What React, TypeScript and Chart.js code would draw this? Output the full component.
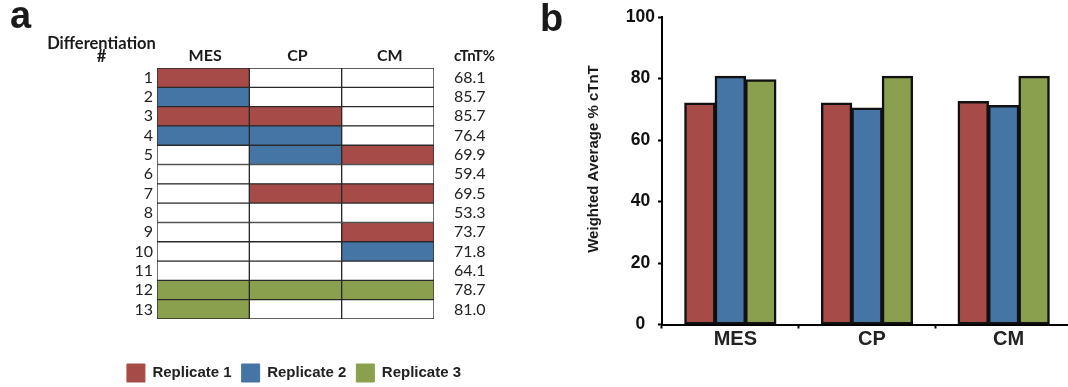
import React, { useEffect, useRef } from 'react';
import { Chart, registerables } from 'chart.js';

Chart.register(...registerables);

// ---------- Data ----------
const rowLabels = ['1', '2', '3', '4', '5', '6', '7', '8', '9', '10', '11', '12', '13'];
const cTnTPercent = [68.1, 85.7, 85.7, 76.4, 69.9, 59.4, 69.5, 53.3, 73.7, 71.8, 64.1, 78.7, 81.0];
const stages = ['MES', 'CP', 'CM'];
// replicate used at each stage for each differentiation (0 = none)
const mesReplicate = [1, 2, 1, 2, 0, 0, 0, 0, 0, 0, 0, 3, 3];
const cpReplicate = [0, 0, 1, 2, 2, 0, 1, 0, 0, 0, 0, 3, 0];
const cmReplicate = [0, 0, 0, 0, 1, 0, 1, 0, 1, 2, 0, 3, 0];
const replicateNames = ['Replicate 1', 'Replicate 2', 'Replicate 3'];
const replicate1 = [72.0, 72.0, 72.5];
const replicate2 = [80.7, 70.4, 71.2];
const replicate3 = [79.6, 80.7, 80.7];
const yTicks = [0, 20, 40, 60, 80, 100];

// ---------- Styles ----------
const COLORS = ['#A64B47', '#4575A5', '#8BA04E'];
const ARIAL = '"Liberation Sans", Arial, Helvetica, sans-serif';
const TABLE_FONT = 'Lato, "Open Sans", sans-serif';

const panelAText = {
  id: 'panelAText',
  afterDraw(chart: any) {
    const ctx = chart.ctx;
    ctx.save();
    ctx.fillStyle = '#1a1a1a';
    ctx.textBaseline = 'alphabetic';
    ctx.textAlign = 'left';
    ctx.font = `bold 38px ${ARIAL}`;
    ctx.fillText('a', 10, 28);
    ctx.font = `bold 16.5px ${TABLE_FONT}`;
    ctx.textAlign = 'center';
    ctx.fillText('Differentiation', 101.5, 48.5);
    ctx.fillText('#', 101.5, 61.5);
    ctx.textAlign = 'left';
    ctx.font = `bold 15px ${TABLE_FONT}`;
    ctx.fillText('cTnT%', chart.chartArea.right + 20, 61);
    ctx.restore();
  },
};

const panelBText = {
  id: 'panelBText',
  afterDraw(chart: any) {
    const ctx = chart.ctx;
    ctx.save();
    ctx.fillStyle = '#1a1a1a';
    ctx.textBaseline = 'alphabetic';
    ctx.textAlign = 'left';
    ctx.font = `bold 38px ${ARIAL}`;
    ctx.fillText('b', 20, 31);
    ctx.translate(73.5, 159);
    ctx.rotate(-Math.PI / 2);
    ctx.textAlign = 'center';
    ctx.textBaseline = 'middle';
    ctx.font = `bold 15px ${ARIAL}`;
    ctx.fillText('Weighted Average % cTnT', 0, 0);
    ctx.restore();
  },
};

export default function App() {
  const refA = useRef<HTMLCanvasElement>(null);
  const refB = useRef<HTMLCanvasElement>(null);

  useEffect(() => {
    const assignments = [mesReplicate, cpReplicate, cmReplicate];
    const chartA = new Chart(refA.current as HTMLCanvasElement, {
      type: 'bar',
      data: {
        labels: rowLabels,
        datasets: stages.map((s, si) => ({
          label: s,
          data: rowLabels.map(() => [si, si + 1]),
          backgroundColor: assignments[si].map((r) => (r ? COLORS[r - 1] : '#FFFFFF')),
          borderColor: '#2a2a2a',
          borderWidth: 1,
          borderSkipped: false,
          grouped: false,
          barPercentage: 1,
          categoryPercentage: 1,
          xAxisID: 'x',
          yAxisID: 'y',
        })) as any,
      },
      options: {
        indexAxis: 'y',
        animation: false,
        responsive: false,
        events: [],
        layout: { padding: { left: 68, right: 0, top: 0, bottom: 0 } },
        plugins: {
          tooltip: { enabled: false },
          legend: {
            position: 'bottom',
            labels: {
              boxWidth: 18,
              boxHeight: 18,
              padding: 10,
              color: '#222',
              font: { family: ARIAL, size: 15, weight: 'bold' },
              generateLabels: () =>
                replicateNames.map((n, i) => ({
                  text: n,
                  fillStyle: COLORS[i],
                  strokeStyle: COLORS[i],
                  lineWidth: 1,
                  hidden: false,
                  fontColor: '#222',
                })),
            },
          },
        },
        scales: {
          x: {
            type: 'linear',
            position: 'top',
            min: 0,
            max: 3,
            afterBuildTicks: (s: any) => {
              s.ticks = stages.map((_, i) => ({ value: i + 0.5 }));
            },
            ticks: {
              padding: 3,
              labelOffset: 2,
              autoSkip: false,
              color: '#1a1a1a',
              font: { family: TABLE_FONT, size: 16, weight: 'bold' },
              callback: (v: any) => stages[Math.floor(Number(v))],
            },
            grid: { display: false, drawTicks: false },
            border: { display: false },
            afterFit: (s: any) => {
              s.height = 68;
            },
          },
          x2: {
            type: 'linear',
            position: 'bottom',
            min: 0,
            max: 1,
            ticks: { display: false },
            grid: { display: false, drawTicks: false },
            border: { display: false },
            afterFit: (s: any) => {
              s.height = 35;
            },
          },
          y: {
            type: 'category',
            position: 'left',
            offset: true,
            ticks: {
              padding: 4,
              autoSkip: false,
              color: '#222',
              font: { family: TABLE_FONT, size: 16 },
            },
            grid: { display: false, drawTicks: false },
            border: { display: false },
            afterFit: (s: any) => {
              s.width = 89;
            },
          },
          y2: {
            type: 'category',
            position: 'right',
            offset: true,
            labels: cTnTPercent.map((v) => v.toFixed(1)),
            ticks: {
              padding: 20,
              autoSkip: false,
              color: '#222',
              font: { family: TABLE_FONT, size: 16 },
            },
            grid: { display: false, drawTicks: false },
            border: { display: false },
            afterFit: (s: any) => {
              s.width = 86;
            },
          },
        } as any,
      },
      plugins: [panelAText],
    });

    const chartB = new Chart(refB.current as HTMLCanvasElement, {
      type: 'bar',
      data: {
        labels: stages,
        datasets: [replicate1, replicate2, replicate3].map((d, i) => ({
          label: replicateNames[i],
          data: d,
          backgroundColor: COLORS[i],
          borderColor: '#111',
          borderWidth: 2.5,
          borderSkipped: false,
          inflateAmount: 0.5,
          barPercentage: 1,
          categoryPercentage: 0.668,
        })),
      },
      options: {
        animation: false,
        responsive: false,
        events: [],
        layout: { padding: { left: 0, right: 8, top: 17, bottom: 0 } },
        plugins: { legend: { display: false }, tooltip: { enabled: false } },
        scales: {
          x: {
            type: 'category',
            ticks: {
              padding: 1,
              labelOffset: 5,
              color: '#222',
              font: { family: ARIAL, size: 20, weight: 'bold', lineHeight: 1 },
            },
            grid: {
              offset: true,
              drawOnChartArea: false,
              drawTicks: true,
              tickLength: 4,
              tickWidth: 2,
              tickColor: '#000',
            },
            border: { display: true, color: '#000', width: 2 },
            afterFit: (s: any) => {
              s.height = 62.5;
            },
          },
          y: {
            type: 'linear',
            min: 0,
            max: 100,
            afterBuildTicks: (s: any) => {
              s.ticks = yTicks.map((v) => ({ value: v }));
            },
            ticks: {
              padding: 3,
              crossAlign: 'center',
              color: '#111',
              font: { family: ARIAL, size: 17.5, weight: 'bold' },
            },
            grid: {
              drawOnChartArea: false,
              drawTicks: true,
              tickLength: 4,
              tickWidth: 2,
              tickColor: '#000',
            },
            border: { display: true, color: '#000', width: 2 },
            afterFit: (s: any) => {
              s.width = 142;
            },
          },
        } as any,
      },
      plugins: [panelBText],
    });

    return () => {
      chartA.destroy();
      chartB.destroy();
    };
  }, []);

  return (
    <div
      style={{
        position: 'absolute',
        left: 0,
        top: 0,
        width: 1068,
        height: 387,
        overflow: 'hidden',
        background: '#fff',
      }}
    >
      <canvas
        ref={refA}
        width={520}
        height={392}
        style={{ position: 'absolute', left: 0, top: 0, width: 520, height: 392 }}
      />
      <canvas
        ref={refB}
        width={560}
        height={387}
        style={{ position: 'absolute', left: 520, top: 0, width: 560, height: 387 }}
      />
    </div>
  );
}
